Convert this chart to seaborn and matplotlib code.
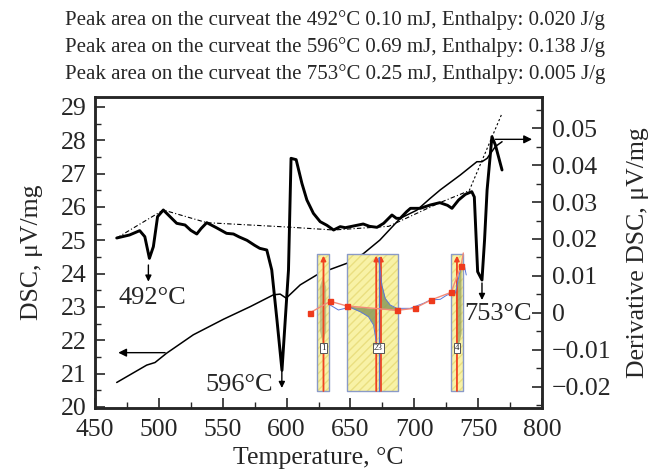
import numpy as np
import seaborn as sns
import matplotlib.pyplot as plt
from matplotlib.ticker import MultipleLocator, FixedLocator, FuncFormatter

# DSC curve (left axis)
dsc_temp = [467, 477, 485, 489, 492.6, 495.7, 499, 503.5, 509, 514, 520.5, 525, 529.7, 533,
            537.5, 545, 553, 558.4, 563, 569, 575, 579, 584.5, 588.4, 592.5, 596.4, 601.5,
            603.5, 607.5, 612, 615.9, 621, 626.3, 631.6, 636.8, 642, 646, 652.4, 660, 665,
            670.8, 676, 682.5, 686, 689, 694, 697, 704.7, 712.5, 720, 726, 729.5, 734.7, 740,
            745, 747, 748.5, 749.6, 753, 755, 757, 760.8, 763.5, 768.7]
dsc_val = [25.07, 25.16, 25.29, 25.11, 24.46, 24.81, 25.71, 25.91, 25.70, 25.51, 25.46, 25.30,
           25.19, 25.35, 25.53, 25.38, 25.21, 25.19, 25.10, 25.00, 24.85, 24.76, 24.71, 24.11,
           22.60, 21.10, 24.11, 27.46, 27.42, 26.71, 26.21, 25.81, 25.56, 25.45, 25.31, 25.41,
           25.38, 25.43, 25.49, 25.42, 25.39, 25.51, 25.76, 25.66, 25.66, 25.86, 25.96, 25.96,
           26.06, 26.13, 26.05, 25.96, 26.21, 26.38, 26.46, 26.30, 25.00, 24.06, 23.81, 25.00,
           26.51, 28.11, 27.86, 27.11]

# derivative DSC (right axis)
deriv_temp = [467, 490.5, 497, 506, 527, 550.6, 571.5, 589.7, 595, 599.7, 610.7, 623.7, 632.8,
              647, 660, 673, 689, 702, 712.5, 720.4, 736, 749, 753, 757, 763.5, 768.7]
deriv_val = [-0.0188, -0.0141, -0.0134, -0.0109, -0.0059, -0.0017, 0.0017, 0.0049, 0.0051,
             0.0040, 0.0076, 0.0103, 0.0116, 0.0134, 0.0160, 0.0197, 0.0256, 0.0278, 0.0310,
             0.0333, 0.0373, 0.0409, 0.0409, 0.0418, 0.0450, 0.0463]

# baselines
base_temp = [467, 503.5, 537.5, 600, 636.8, 680, 720, 743]
base_val = [25.07, 25.91, 25.53, 25.40, 25.31, 25.42, 26.13, 26.49]
tangent_temp = [743, 768.7]
tangent_val = [26.49, 28.81]

peak_labels = ['492°C', '596°C', '753°C']
peak_temp = [491.8, 596.3, 753.0]
peak_arrow_top = [24.26, 21.11, 23.72]
peak_arrow_end = [23.76, 20.57, 23.21]
peak_text_x = [494.7, 563.2, 765.8]
peak_text_y = [23.27, 20.67, 22.79]

header = ['Peak area on the curveat the 492°C 0.10 mJ, Enthalpy: 0.020 J/g',
          'Peak area on the curveat the 596°C 0.69 mJ, Enthalpy: 0.138 J/g',
          'Peak area on the curveat the 753°C 0.25 mJ, Enthalpy: 0.005 J/g']

# inset (software screenshot) in DSC axis units
band_left = [624.1, 647.2, 728.9]
band_right = [633.3, 687.4, 737.8]
band_low, band_high = 20.48, 24.59
red_lines = [628.9, 670.2, 673.9, 733.4]
band_numbers = ['1', '23', '4']
number_x = [628.9, 672.0, 733.4]
mark_temp = [618.5, 634.2, 647.3, 686.4, 700.2, 713.1, 728.8, 736.6]
mark_val = [22.83, 23.17, 23.03, 22.90, 22.96, 23.21, 23.44, 24.23]
blue_temp = [634.1, 640.6, 645.9, 647.2, 657.6, 664.1, 668.1, 670.2]
blue_val = [23.06, 22.91, 22.96, 23.03, 22.86, 22.71, 22.46, 21.96]
blue2_temp = [672.1, 672.8, 674.6, 677.2, 681.1, 686.4, 696.8, 707.2, 712.5, 720.3, 725.6,
              732.1, 736.0, 739.1, 740.7]
blue2_val = [24.47, 24.26, 23.66, 23.26, 23.06, 22.96, 22.96, 23.11, 23.21, 23.23, 23.36,
             23.41, 24.11, 24.26, 23.96]

sns.set_style('ticks')
plt.rcParams['font.family'] = ['Liberation Serif', 'DejaVu Serif']

fig, ax = plt.subplots(figsize=(6.52, 4.72), dpi=100)
fig.subplots_adjust(left=0.1457, right=0.8313, bottom=0.1356, top=0.7945)
ax2 = ax.twinx()
ax.set_zorder(ax2.get_zorder() + 1)
ax.patch.set_visible(False)

sns.lineplot(x=deriv_temp, y=deriv_val, ax=ax2, color='black', lw=1.1, sort=False, estimator=None)
sns.lineplot(x=dsc_temp, y=dsc_val, ax=ax, color='black', lw=2.1, sort=False, estimator=None)
ax.plot(base_temp, base_val, color='black', lw=0.8, ls=(0, (4, 2, 1, 2)))
ax.plot(tangent_temp, tangent_val, color='black', lw=0.8, ls=(0, (2, 2)))

# inset bands
for t0, t1 in zip(band_left, band_right):
    ax.fill_between([t0, t1], band_low, band_high, facecolor='#f8f2a6', edgecolor='#eadf80',
                    hatch='////', lw=0, zorder=3)
    ax.fill_between([t0, t1], band_low, band_high, facecolor='none', edgecolor='#8a9ac8',
                    lw=1.0, zorder=4)

# green peak areas
base_line = np.interp(blue_temp[3:], [647.3, 686.4], [23.03, 22.90])
ax.fill_between(blue_temp[3:], blue_val[3:], base_line, color='#8c9a5a', alpha=0.85, lw=0, zorder=4)
base_line2 = np.interp(blue2_temp[:6], [647.3, 686.4], [23.03, 22.90])
ax.fill_between(blue2_temp[:6], blue2_val[:6], base_line2, color='#8c9a5a', alpha=0.85, lw=0, zorder=4)
ax.fill([626, 628.5, 631, 631, 628.5, 626], [23.6, 23.9, 23.6, 22.3, 21.9, 22.3],
        color='#a0a870', alpha=0.6, lw=0, zorder=4)
ax.fill([732.5, 737, 737, 733.5], [23.4, 24.3, 22.2, 21.6], color='#8c9a5a', alpha=0.7,
        lw=0, zorder=4)

for t in red_lines:
    ax.annotate('', xy=(t, band_high - 0.05), xytext=(t, band_low), zorder=5,
                arrowprops=dict(arrowstyle='-|>', color='#f04020', lw=1.3, mutation_scale=7,
                                shrinkA=0, shrinkB=0))
ax.plot([672.0, 672.0], [band_low, band_high - 0.1], color='#5570d0', lw=0.9, zorder=5)

ax.plot(blue_temp, blue_val, color='#5a78d8', lw=0.7, zorder=5)
ax.plot(blue2_temp, blue2_val, color='#5a78d8', lw=0.7, zorder=5)
ax.plot(mark_temp + [738.4], mark_val + [24.62], color='#f48a78', lw=1.0, zorder=6)
ax.plot(mark_temp, mark_val, ls='none', marker='s', ms=3.6, color='#ee3a1c', zorder=7)

for lab, tx in zip(band_numbers, number_x):
    ax.text(tx, 21.77, lab, ha='center', va='center', fontsize=6.5, zorder=8,
            bbox=dict(boxstyle='square,pad=0.12', fc='white', ec='#555555', lw=0.7))

# peak annotations
for lab, t, y0, y1, tx, ty in zip(peak_labels, peak_temp, peak_arrow_top, peak_arrow_end,
                                  peak_text_x, peak_text_y):
    ax.annotate('', xy=(t, y1), xytext=(t, y0),
                arrowprops=dict(arrowstyle='-|>', color='black', lw=1.0, mutation_scale=9,
                                shrinkA=0, shrinkB=0))
    ax.text(tx, ty, lab, ha='center', va='center', fontsize=19)

# axis arrows
ax.annotate('', xy=(468.2, 21.63), xytext=(504.9, 21.63),
            arrowprops=dict(arrowstyle='-|>', color='black', lw=1.0, mutation_scale=12,
                            shrinkA=0, shrinkB=0))
ax.annotate('', xy=(792.2, 28.03), xytext=(763.5, 28.03), annotation_clip=False,
            arrowprops=dict(arrowstyle='-|>', color='black', lw=1.0, mutation_scale=12,
                            shrinkA=0, shrinkB=0))

ax.set_xlim(450, 800)
ax.set_ylim(19.97, 29.3)
ax2.set_ylim(-0.0257, 0.0584)

ax.xaxis.set_major_locator(MultipleLocator(50))
ax.xaxis.set_minor_locator(MultipleLocator(25))
ax.yaxis.set_major_locator(MultipleLocator(1))
ax.yaxis.set_minor_locator(MultipleLocator(0.5))
ax2.yaxis.set_major_locator(FixedLocator([-0.02, -0.01, 0, 0.01, 0.02, 0.03, 0.04, 0.05]))
ax2.yaxis.set_minor_locator(MultipleLocator(0.005))
ax2.yaxis.set_major_formatter(FuncFormatter(
    lambda v, p: '0' if abs(v) < 1e-9 else f'{v:.2f}'.replace('-', '\u2212')))

for a in (ax, ax2):
    a.tick_params(which='major', direction='in', length=7, width=1.2, labelsize=18.5)
    a.tick_params(which='minor', direction='in', length=4, width=1.0)
    for s in a.spines.values():
        s.set_linewidth(1.8)
ax.tick_params(axis='x', pad=8)
ax.tick_params(axis='y', pad=6)
ax2.tick_params(axis='y', pad=7)

ax.set_xlabel('Temperature, °C', fontsize=18.5, labelpad=4)
ax.set_ylabel('DSC, μV/mg', fontsize=18.5, labelpad=13)
ax2.set_ylabel('Derivative DSC, μV/mg', fontsize=18.5, labelpad=11)

for i, line in enumerate(header):
    fig.text(0.514, 0.958 - i * 0.057, line, ha='center', va='center', fontsize=15)

fig.savefig('out.png', dpi=100)
